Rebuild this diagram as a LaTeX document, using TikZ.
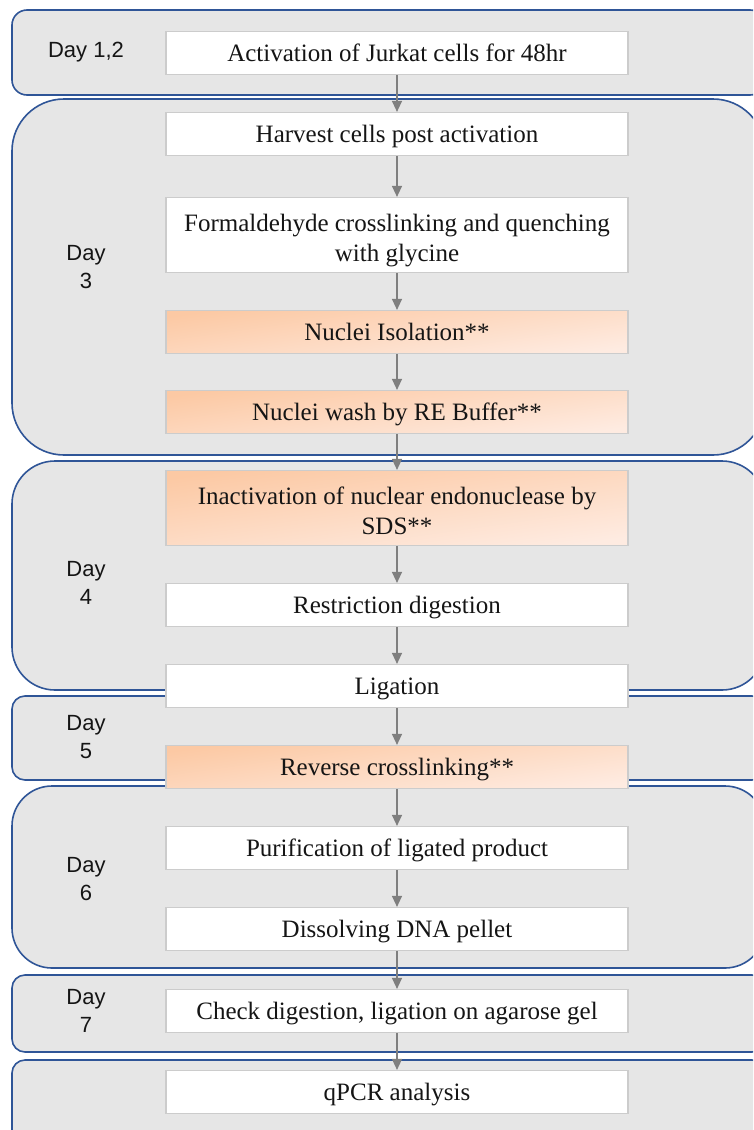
\documentclass[tikz,border=0pt]{standalone}
\usepackage{fontspec}
\setmainfont{Liberation Serif}
\newfontfamily\labfont{Liberation Sans}
\usetikzlibrary{arrows.meta}
\definecolor{panelfill}{HTML}{E6E6E6}
\definecolor{panelline}{HTML}{2F5597}
\definecolor{arrowgray}{HTML}{7F7F7F}
\definecolor{orangeA}{HTML}{FCC9A4}
\definecolor{orangeB}{HTML}{FEEBE1}
\definecolor{boxline}{HTML}{CCCCCC}
\definecolor{txt}{HTML}{151515}
\begin{document}
\begin{tikzpicture}[x=1pt,y=-1pt,
 panel/.style={fill=panelfill,draw=panelline,line width=1.6pt},
 stepbox/.style={draw=boxline,line width=1.2pt,fill=white,minimum width=462pt,minimum height=43pt,inner sep=0pt,align=center,text=txt,text depth=0pt,font=\fontsize{25}{30}\selectfont},
 twoline/.style={minimum height=75pt,text height=52pt},
 hot/.style={stepbox,top color=orangeA,bottom color=orangeB,shading angle=8},
 daylab/.style={font=\labfont\fontsize{22}{28}\selectfont,align=center,inner sep=0pt,text=txt},
 flow/.style={draw=arrowgray,line width=1.3pt,-{Triangle[length=11pt,width=10pt]}}]
\useasboundingbox (0,0) rectangle (753,1130);
\clip (0,0) rectangle (753,1130);
% day panels
\draw[panel,rounded corners=15pt] (12,10) rectangle (765,95);
\draw[panel,rounded corners=52pt] (12,99) rectangle (765,455);
\draw[panel,rounded corners=43pt] (12,461) rectangle (765,690);
\draw[panel,rounded corners=13pt] (12,696) rectangle (765,780);
\draw[panel,rounded corners=40pt] (12,786) rectangle (765,968);
\draw[panel,rounded corners=13pt] (12,975) rectangle (765,1052);
\draw[panel,rounded corners=13pt] (12,1060) rectangle (765,1160);
% day labels
\node[daylab] (d12) at (86,52) {Day 1,2};
\node[daylab] (d3) at (86,267) {Day\\3};
\node[daylab] (d4) at (86,583) {Day\\4};
\node[daylab] (d5) at (86,737) {Day\\5};
\node[daylab] (d6) at (86,879) {Day\\6};
\node[daylab] (d7) at (86,1011) {Day\\7};
% steps
\node[stepbox] (s1) at (397,53) {Activation of Jurkat cells for 48hr};
\node[stepbox] (s2) at (397,134) {Harvest cells post activation};
\node[stepbox,twoline] (s3) at (397,235) {Formaldehyde crosslinking and quenching\\with glycine};
\node[hot] (s4) at (397,332) {Nuclei Isolation**};
\node[hot] (s5) at (397,412) {Nuclei wash by RE Buffer**};
\node[hot,twoline] (s6) at (397,508) {Inactivation of nuclear endonuclease by\\SDS**};
\node[stepbox] (s7) at (397,605) {Restriction digestion};
\node[stepbox] (s8) at (397,686) {Ligation};
\node[hot] (s9) at (397,767) {Reverse crosslinking**};
\node[stepbox] (s10) at (397,848) {Purification of ligated product};
\node[stepbox] (s11) at (397,929) {Dissolving DNA pellet};
\node[stepbox] (s12) at (397,1011) {Check digestion, ligation on agarose gel};
\node[stepbox] (s13) at (397,1092) {qPCR analysis};
% arrows
\draw[flow] (s1) -- (s2);
\draw[flow] (s2) -- (s3);
\draw[flow] (s3) -- (s4);
\draw[flow] (s4) -- (s5);
\draw[flow] (s5) -- (s6);
\draw[flow] (s6) -- (s7);
\draw[flow] (s7) -- (s8);
\draw[flow] (s8) -- (s9);
\draw[flow] (s9) -- (s10);
\draw[flow] (s10) -- (s11);
\draw[flow] (s11) -- (s12);
\draw[flow] (s12) -- (s13);
\end{tikzpicture}
\end{document}
